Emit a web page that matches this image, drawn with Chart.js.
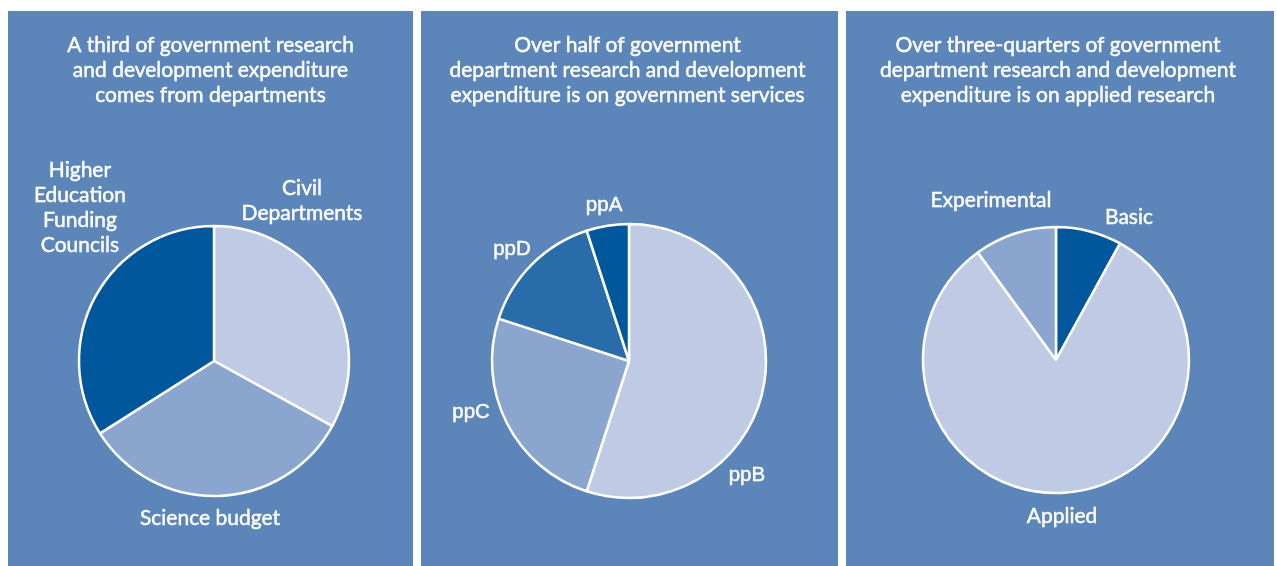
<!DOCTYPE html>
<html>
<head>
<meta charset="utf-8">
<title>Government research and development expenditure</title>
<script src="https://cdn.jsdelivr.net/npm/chart.js@4.4.0/dist/chart.umd.min.js"></script>
<style>
  html, body { margin: 0; padding: 0; background: #fff; }
  body { width: 1277px; height: 566px; position: relative; overflow: hidden; }
  .panel { position: absolute; top: 11px; height: 555px; background: #5c86b9; }
  .panel canvas { display: block; }
</style>
</head>
<body>
<div class="panel" style="left:8px;width:405px"><canvas id="pieSource" width="405" height="555"></canvas></div>
<div class="panel" style="left:421px;width:417px"><canvas id="piePurpose" width="417" height="555"></canvas></div>
<div class="panel" style="left:846px;width:428px"><canvas id="pieType" width="428" height="555"></canvas></div>
<script>
// shares of expenditure, in per cent, clockwise from twelve o'clock
const sourceLabels = [['Civil', 'Departments'], 'Science budget', ['Higher', 'Education', 'Funding', 'Councils']];
const sourceShares = [33, 33, 34];
const sourceTitle = ['A third of government research', 'and development expenditure', 'comes from departments'];

const purposeLabels = ['ppB', 'ppC', 'ppD', 'ppA'];
const purposeShares = [55, 25, 15, 5];
const purposeTitle = ['Over half of government', 'department research and development', 'expenditure is on government services'];

const typeLabels = ['Basic', 'Applied', 'Experimental'];
const typeShares = [8, 82, 10];
const typeTitle = ['Over three-quarters of government', 'department research and development', 'expenditure is on applied research'];

const DARK = '#00579b';
const MID_DARK = '#286ca9';
const MID = '#8ba6ce';
const LIGHT = '#bfcbe4';

// titles at the top of each panel, and slice names placed around the pie
// (label offsets are in multiples of the pie radius, from its centre)
const panelText = {
  id: 'panelText',
  afterDatasetsDraw(chart, args, opts) {
    const { ctx, width } = chart;
    const arcs = chart.getDatasetMeta(0).data;
    ctx.save();
    ctx.fillStyle = opts.color;
    ctx.strokeStyle = opts.color;
    ctx.lineWidth = opts.weight;
    ctx.lineJoin = 'round';
    ctx.textAlign = 'center';
    ctx.textBaseline = 'alphabetic';
    const put = (text, x, y) => {
      ctx.fillText(text, x, y);
      ctx.strokeText(text, x, y);
    };
    ctx.font = opts.titleFont;
    opts.title.forEach((line, i) => {
      put(line, width / 2 + opts.titleShift, opts.titleTop + i * opts.titleLeading);
    });
    ctx.font = opts.labelFont;
    ctx.textBaseline = 'middle';
    arcs.forEach((arc, i) => {
      const place = opts.placement[i];
      const lines = [].concat(chart.data.labels[i]);
      const cx = arc.x + place[0] * arc.outerRadius;
      const cy = arc.y + place[1] * arc.outerRadius;
      const top = cy - (lines.length - 1) * opts.labelLeading / 2;
      lines.forEach((line, j) => put(line, cx, top + j * opts.labelLeading));
    });
    ctx.restore();
  }
};

function renderPie(id, labels, values, colors, cfg) {
  const canvas = document.getElementById(id);
  if (!canvas) return;
  const context = canvas.getContext('2d');

  new Chart(context, {
    type: 'pie',
    data: {
      labels,
      datasets: [{
        data: values,
        backgroundColor: colors,
        borderColor: '#ffffff',
        borderWidth: 2.5,
        clip: false
      }]
    },
    options: {
      responsive: false,
      animation: false,
      radius: cfg.radius,
      layout: { padding: cfg.padding },
      events: [],
      plugins: {
        legend: { display: false },
        tooltip: { enabled: false },
        panelText: {
          color: '#ffffff',
          weight: 0.45,
          title: cfg.title,
          titleFont: '21px Lato',
          titleTop: 41,
          titleLeading: 25,
          titleShift: cfg.titleShift,
          labelFont: cfg.labelFont,
          labelLeading: 25,
          placement: cfg.placement
        }
      }
    },
    plugins: [panelText]
  });
}

renderPie('pieSource', sourceLabels, sourceShares, [LIGHT, MID, DARK], {
  title: sourceTitle,
  titleShift: 0,
  radius: 135,
  padding: { left: 71, right: 64, top: 215, bottom: 70 },
  labelFont: '21px Lato',
  placement: [[0.652, -1.189], [-0.03, 1.163], [-0.993, -1.137]]
});

renderPie('piePurpose', purposeLabels, purposeShares, [LIGHT, MID, MID_DARK, DARK], {
  title: purposeTitle,
  titleShift: -2,
  radius: 137,
  padding: { left: 71, right: 72, top: 213, bottom: 68 },
  labelFont: '20.5px "Liberation Sans"',
  placement: [[0.861, 0.832], [-1.153, 0.377], [-0.854, -0.818], [-0.182, -1.139]]
});

renderPie('pieType', typeLabels, typeShares, [DARK, LIGHT, MID], {
  title: typeTitle,
  titleShift: -2,
  radius: 133,
  padding: { left: 77, right: 85, top: 216, bottom: 73 },
  labelFont: '21px Lato',
  placement: [[0.549, -1.077], [0.045, 1.178], [-0.489, -1.203]]
});
</script>
</body>
</html>
